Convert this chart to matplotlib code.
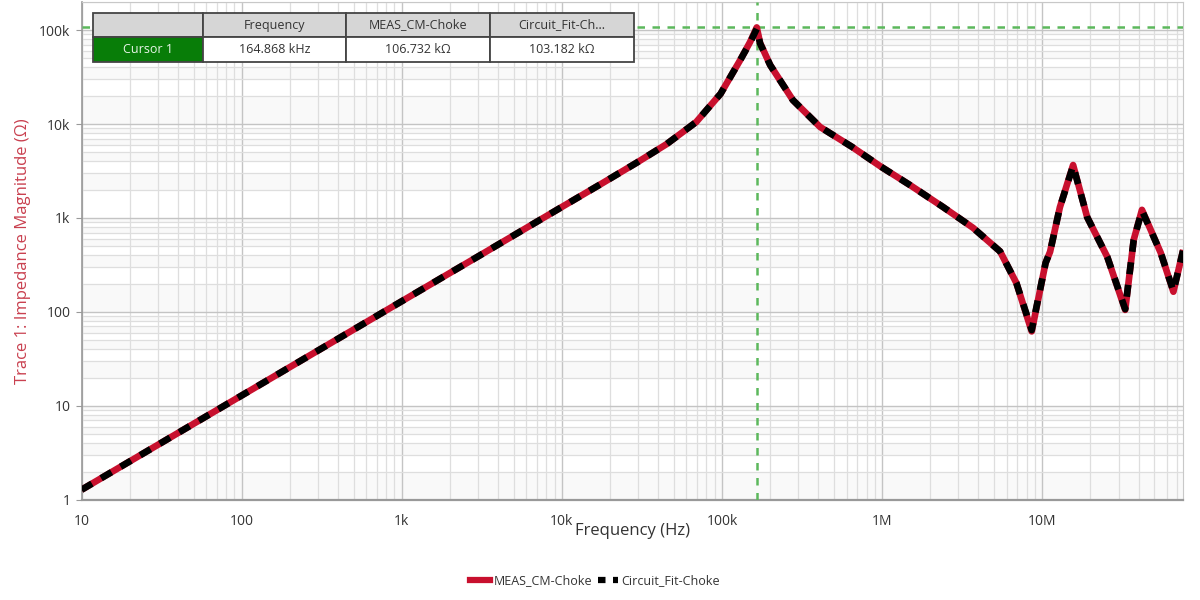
import matplotlib.pyplot as plt
import matplotlib.patches as mpatches
from matplotlib.lines import Line2D
from matplotlib.ticker import FixedLocator, FixedFormatter, NullFormatter
import numpy as np

# frequency points (Hz)
freq = [10, 100, 1e3, 3e3, 10e3, 18e3, 29.5e3, 45e3, 69e3, 98e3, 130e3, 150e3,
        164.868e3, 173e3, 200e3, 277e3, 410e3, 650e3, 975e3, 1.5e6, 2.4e6, 3.7e6,
        5.46e6, 6.9e6, 8.6e6, 10.5e6, 11.2e6, 12.9e6, 15.6e6, 19.1e6, 25.5e6,
        33e6, 37.3e6, 42e6, 55e6, 66e6, 76e6]

# measured impedance (ohm)
meas = [1.28, 12.9, 130, 390, 1.31e3, 2.36e3, 3.9e3, 6.1e3, 10.5e3, 21e3, 48e3, 75e3,
        106.732e3, 73e3, 42.4e3, 18e3, 9.3e3, 5.7e3, 3.55e3, 2.23e3, 1.31e3, 785,
        440, 203, 62, 332, 436, 1.3e3, 3.66e3, 1.02e3, 385,
        105, 585, 1.22e3, 426, 164, 457]

# circuit fit impedance (ohm)
fit = [1.28, 12.9, 130, 390, 1.31e3, 2.36e3, 3.9e3, 6.1e3, 10.5e3, 21e3, 48e3, 74e3,
       103.182e3, 72e3, 42.4e3, 18e3, 9.3e3, 5.7e3, 3.55e3, 2.23e3, 1.31e3, 785,
       440, 203, 64, 332, 436, 1.3e3, 3.6e3, 1.02e3, 385,
       107, 585, 1.2e3, 426, 166, 457]

cursor_f = 164.868e3
cursor_z = 106.732e3

table_head = ["", "Frequency", "MEAS_CM-Choke", "Circuit_Fit-Ch..."]
table_row = ["Cursor 1", "164.868 kHz", "106.732 k\u03a9", "103.182 k\u03a9"]

xt = [10, 100, 1e3, 1e4, 1e5, 1e6, 1e7]
xtl = ["10", "100", "1k", "10k", "100k", "1M", "10M"]
yt = [1, 10, 100, 1e3, 1e4, 1e5]
ytl = ["1", "10", "100", "1k", "10k", "100k"]

plt.rcParams['font.family'] = ['Open Sans', 'DejaVu Sans']

fig = plt.figure(figsize=(12, 6), dpi=100)
ax = fig.add_axes([0.068, 0.167, 0.918, 0.83])
ax.set_xscale('log')
ax.set_yscale('log')
ax.set_xlim(10, 76e6)
ax.set_ylim(1, 2e5)

# faint alternating bands between horizontal grid lines
ylines = []
for d in range(0, 6):
    for m in range(1, 10):
        ylines.append(m * 10 ** d)
ylines.append(1e6)
for i in range(0, len(ylines) - 1, 2):
    ax.axhspan(ylines[i], ylines[i + 1], color='#f9f9f9', lw=0, zorder=0)

ax.xaxis.set_major_locator(FixedLocator(xt))
ax.xaxis.set_major_formatter(FixedFormatter(xtl))
ax.yaxis.set_major_locator(FixedLocator(yt))
ax.yaxis.set_major_formatter(FixedFormatter(ytl))
ax.xaxis.set_minor_formatter(NullFormatter())
ax.yaxis.set_minor_formatter(NullFormatter())
ax.grid(True, which='major', color='#c4c4c4', lw=1.0, zorder=1)
ax.grid(True, which='minor', color='#dedede', lw=0.9, zorder=1)
ax.set_axisbelow(True)

ax.tick_params(axis='x', which='both', length=0, pad=10, labelsize=10, labelcolor='#333333')
ax.tick_params(axis='y', which='major', length=4, color='#999999', pad=4, labelsize=10, labelcolor='#333333')
ax.tick_params(axis='y', which='minor', length=0)

for s in ['top', 'right']:
    ax.spines[s].set_color('#c8c8c8')
ax.spines['left'].set_color('#999999')
ax.spines['bottom'].set_color('#999999')
ax.spines['bottom'].set_linewidth(1.6)
ax.spines['left'].set_linewidth(1.2)

# cursor lines
ax.axvline(cursor_f, color='#5cb85c', lw=1.8, ls=(0, (3, 3)), zorder=4)
ax.axhline(cursor_z, color='#5cb85c', lw=1.8, ls=(0, (3, 3)), zorder=4)

ax.plot(freq, meas, color='#c8102e', lw=4.8, solid_capstyle='butt', zorder=5)
ax.plot(freq, fit, color='black', lw=4.8, ls=(0, (1.8, 1.6)), zorder=6)

ax.set_xlabel('Frequency (Hz)', fontsize=12, color='#333333', labelpad=-4)
ax.set_ylabel('Trace 1: Impedance Magnitude (\u03a9)', fontsize=12, color='#c9404f', labelpad=6)

# cursor table (figure pixels)
W, H = 1200.0, 600.0
cols = [93, 203, 346, 490, 634]
rows = [13, 37, 62]
for r, cells in enumerate([table_head, table_row]):
    y0, y1 = rows[r], rows[r + 1]
    for c, txt in enumerate(cells):
        x0, x1 = cols[c], cols[c + 1]
        if r == 0:
            fc, tc = '#d6d6d6', '#333333'
        elif c == 0:
            fc, tc = '#087d08', '#e8f5e8'
        else:
            fc, tc = 'white', '#333333'
        rect = mpatches.Rectangle((x0 / W, 1 - y1 / H), (x1 - x0) / W, (y1 - y0) / H,
                                  transform=fig.transFigure, facecolor=fc,
                                  edgecolor='#444444', lw=1.3, zorder=10)
        fig.patches.append(rect)
        fig.text((x0 + x1) / 2 / W, 1 - (y0 + y1) / 2 / H, txt, ha='center', va='center',
                 fontsize=9, color=tc, zorder=11)

handles = [Line2D([0], [0], color='#c8102e', lw=4.5),
           Line2D([0], [0], color='black', lw=4.5, ls=(0, (1.2, 1.2)))]
fig.legend(handles, ['MEAS_CM-Choke', 'Circuit_Fit-Choke'], loc='center',
           bbox_to_anchor=(0.496, 0.032), ncol=2, frameon=False, fontsize=9,
           handlelength=1.6, handletextpad=0.3, columnspacing=0.4, labelcolor='#333333')

fig.savefig('out.png', dpi=100)
